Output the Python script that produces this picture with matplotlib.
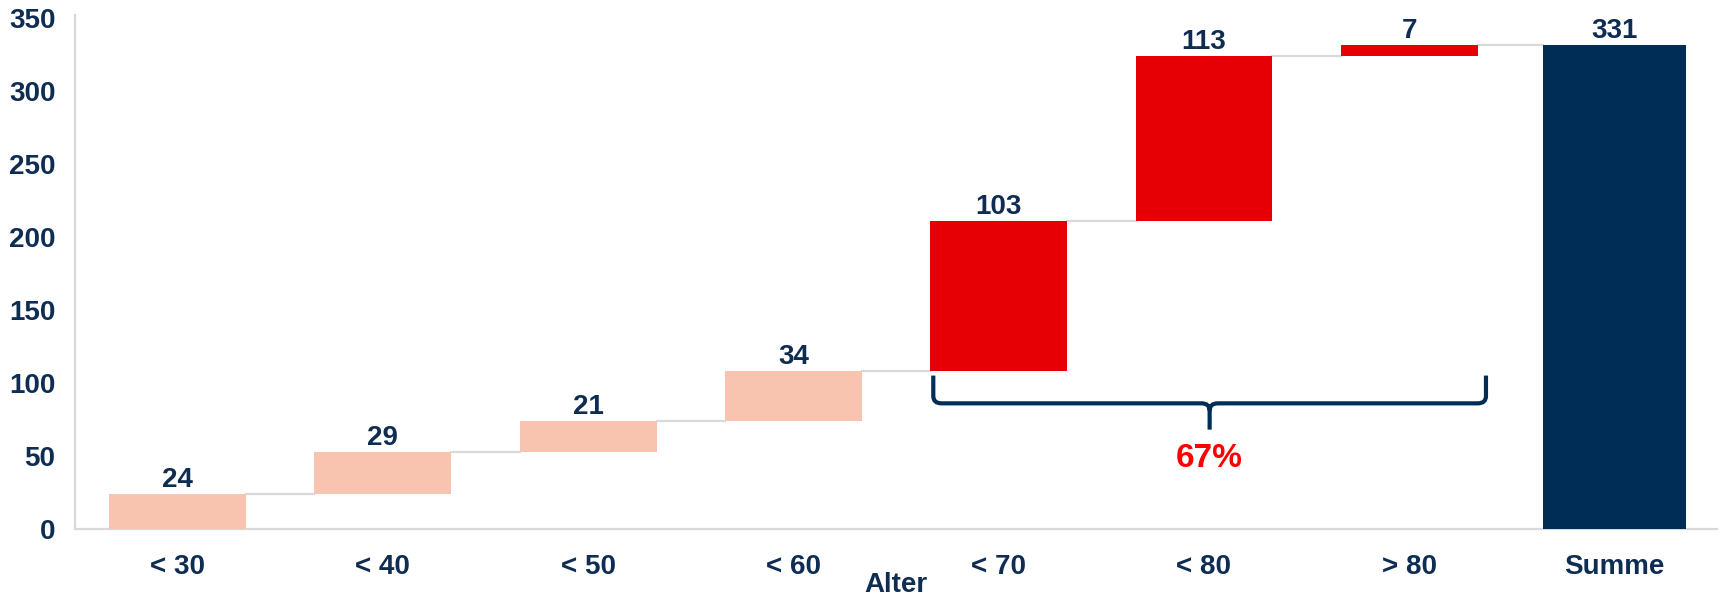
import numpy as np
import matplotlib.pyplot as plt
from matplotlib.path import Path
from matplotlib.patches import PathPatch

# Age groups and their contributions
categories = ['< 30', '< 40', '< 50', '< 60', '< 70', '< 80', '> 80']
values = [24, 29, 21, 34, 103, 113, 7]
total_label = 'Summe'
axis_title = 'Alter'

# Colours
light = '#F8C3AF'
red = '#E60005'
navy = '#002D56'
text_navy = '#0F2D52'
grid_grey = '#D9D9D9'
bar_colors = [light, light, light, light, red, red, red]

plt.rcParams['font.family'] = ['Liberation Sans', 'DejaVu Sans']
plt.rcParams['font.weight'] = 'bold'

values = np.array(values)
ends = np.cumsum(values)
starts = ends - values
total = ends[-1]
x = np.arange(len(values) + 1)
bar_w = 0.667
sum_w = 0.70
fs = 20

fig = plt.figure(figsize=(17.2, 5.98), dpi=100)
ax = fig.add_axes([0.0435, 0.1154, 0.9549, 0.86])

# Floating bars
ax.bar(x[:-1], values, bottom=starts, width=bar_w, color=bar_colors, zorder=3)
ax.bar(x[-1], total, width=sum_w, color=navy, zorder=3)

# Connectors between bars
for i, lvl in enumerate(ends):
    x_from = x[i] + bar_w / 2
    x_to = x[i + 1] - (sum_w if i + 1 == len(values) else bar_w) / 2
    ax.plot([x_from, x_to], [lvl, lvl], color=grid_grey, lw=1.6, zorder=2)

# Value labels
for xi, top, v in zip(x[:-1], ends, values):
    ax.annotate(str(v), (xi, top), xytext=(0, 5), textcoords='offset points',
                ha='center', va='baseline', fontsize=fs, color=text_navy,
                fontweight='bold')
ax.annotate(str(total), (x[-1], total), xytext=(0, 5), textcoords='offset points',
            ha='center', va='baseline', fontsize=fs, color=text_navy,
            fontweight='bold')

# Brace over the three oldest groups
x0 = x[4] - bar_w / 2 + 0.015
x1 = x[6] + bar_w / 2 + 0.04
xc = (x0 + x1) / 2
y_top = starts[4] - 3
y_h = starts[4] - 22
y_tip = starts[4] - 40
rx, ry = 0.04, 5.0
verts = [(x0, y_top), (x0, y_h + ry), (x0, y_h), (x0 + rx, y_h),
         (xc - rx, y_h), (xc, y_h), (xc, y_h - ry), (xc, y_tip),
         (xc, y_h - ry), (xc, y_h), (xc + rx, y_h),
         (x1 - rx, y_h), (x1, y_h), (x1, y_h + ry), (x1, y_top)]
codes = [Path.MOVETO, Path.LINETO, Path.CURVE3, Path.CURVE3,
         Path.LINETO, Path.CURVE3, Path.CURVE3, Path.LINETO,
         Path.MOVETO, Path.CURVE3, Path.CURVE3,
         Path.LINETO, Path.CURVE3, Path.CURVE3, Path.LINETO]
ax.add_patch(PathPatch(Path(verts, codes), fill=False, edgecolor=navy, lw=3,
                       capstyle='butt', zorder=4))

share = values[4:].sum() / total
ax.text(xc, y_tip - 20, f'{share:.0%}', ha='center', va='center', fontsize=24,
        color='#FF0000', fontweight='bold')

# Axes styling
ax.set_xlim(-0.5, 7.5)
ax.set_ylim(0, 352)
ax.set_yticks(np.arange(0, 351, 50))
ax.set_xticks(x)
ax.set_xticklabels(categories + [total_label])
ax.tick_params(axis='both', length=0, labelsize=fs, labelcolor=text_navy)
ax.tick_params(axis='x', pad=18)
ax.tick_params(axis='y', pad=14)
for lbl in ax.get_xticklabels() + ax.get_yticklabels():
    lbl.set_fontweight('bold')

for side in ['top', 'right']:
    ax.spines[side].set_visible(False)
for side in ['left', 'bottom']:
    ax.spines[side].set_color(grid_grey)
    ax.spines[side].set_linewidth(1.6)

ax.set_xlabel(axis_title, fontsize=fs, color=text_navy, fontweight='bold')
ax.xaxis.set_label_coords(0.5, -0.109)
ax.xaxis.label.set_verticalalignment('center')

fig.savefig('out.png', dpi=100)
